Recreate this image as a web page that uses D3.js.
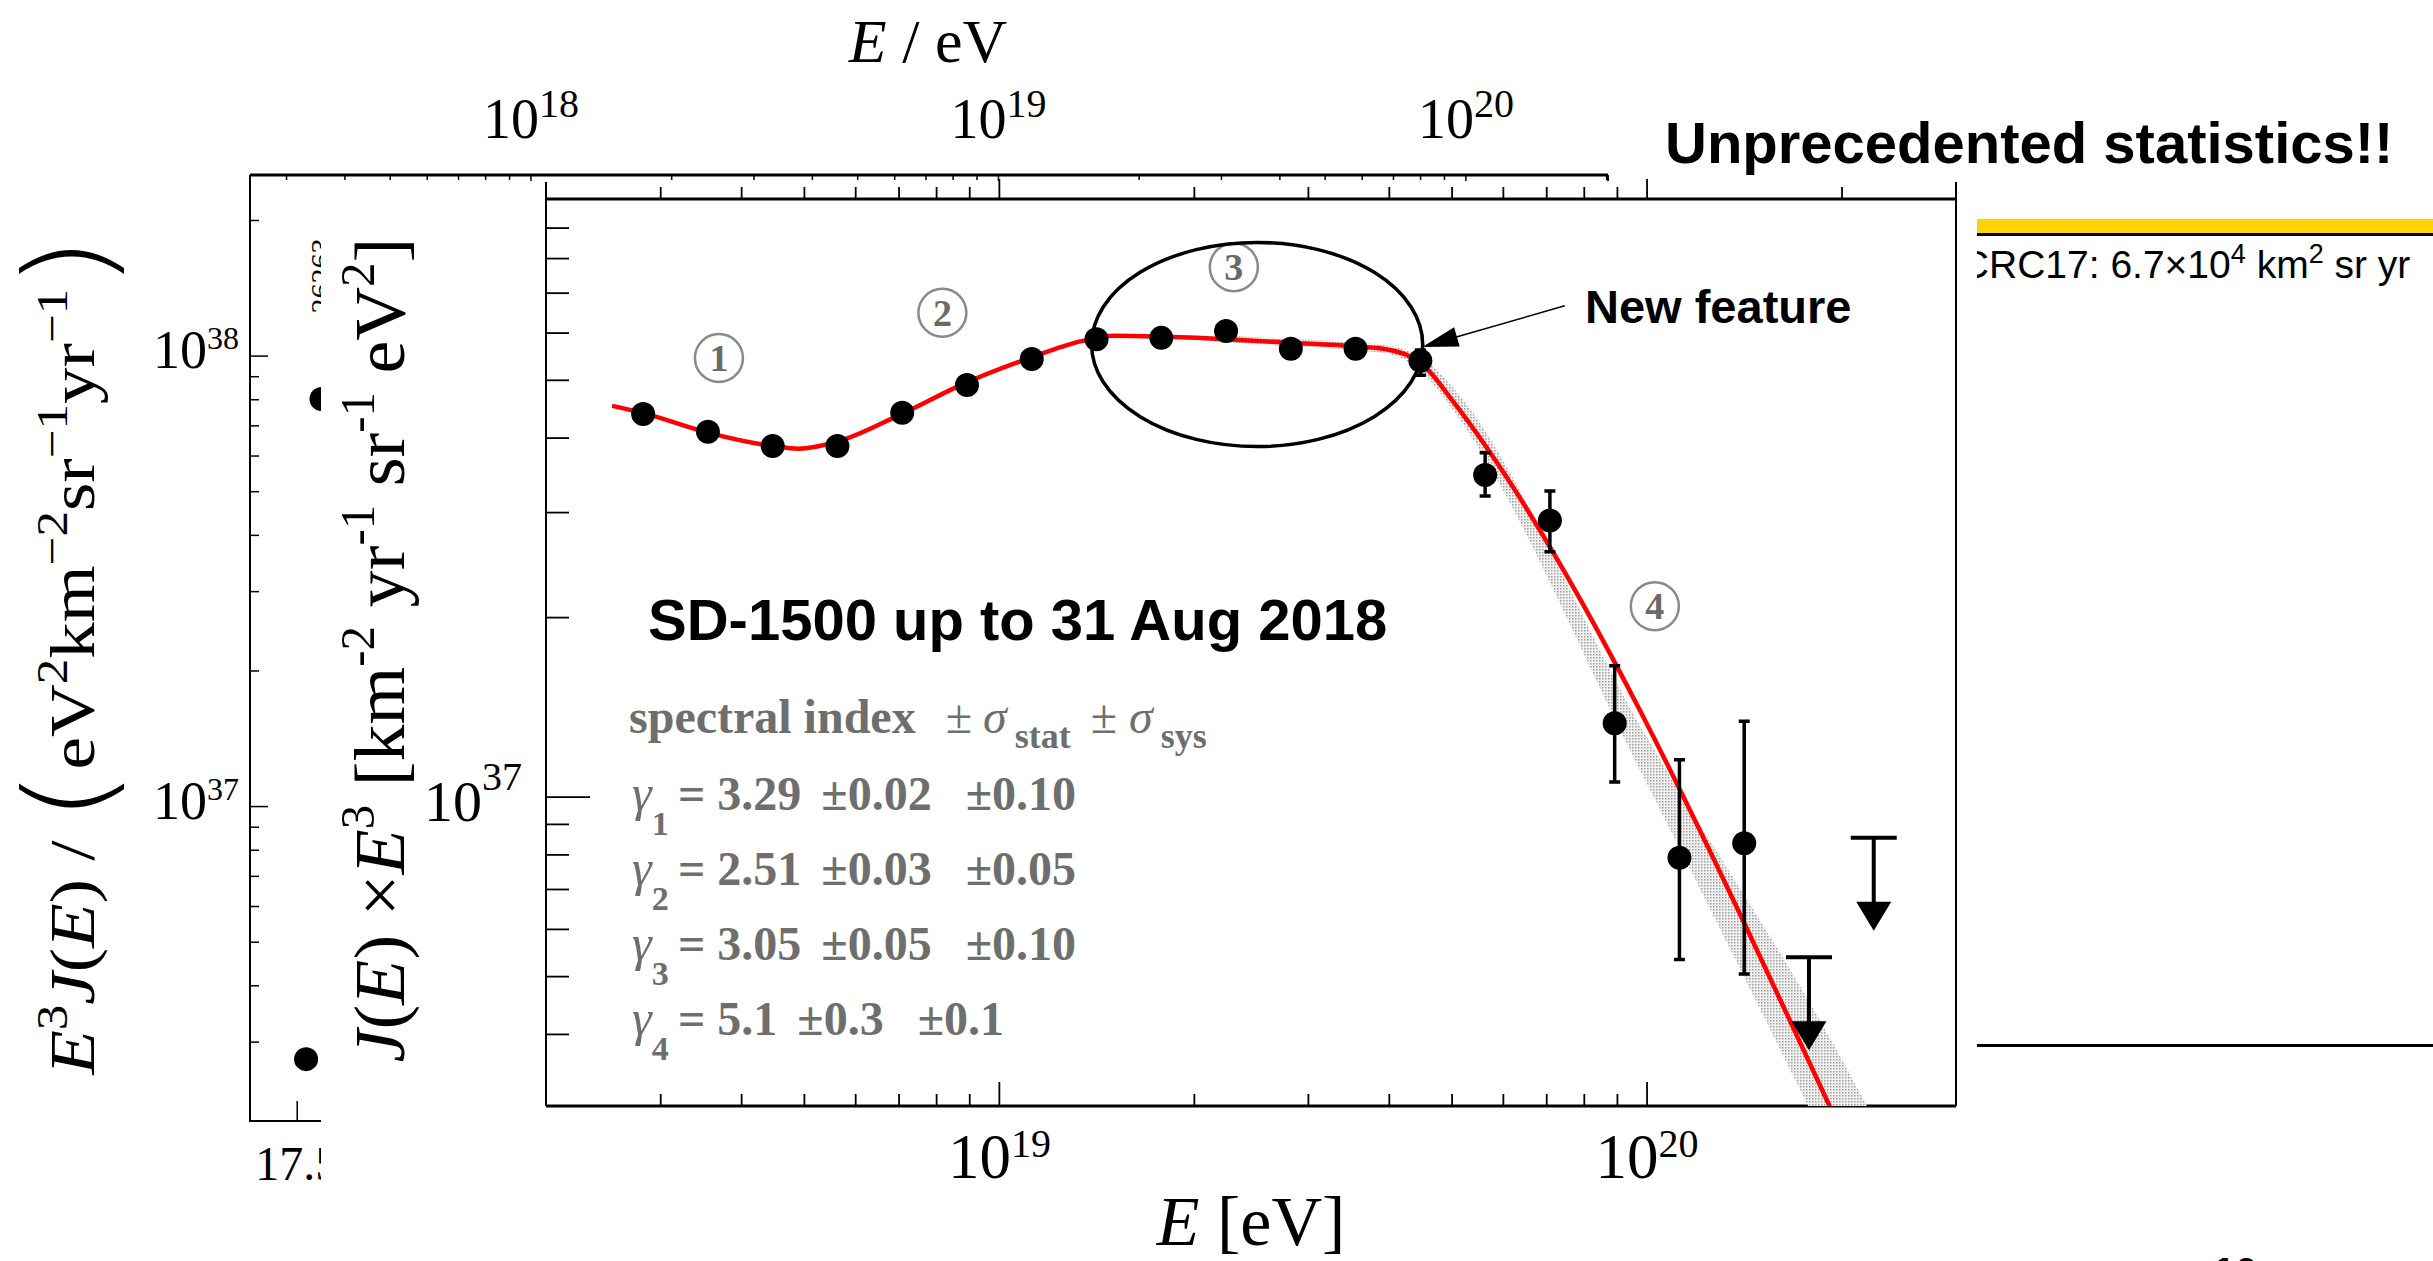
<!doctype html>
<meta charset="utf-8">
<title>SD-1500 spectrum</title>
<style>
    html, body {
        margin: 0;
        background: #fff;
    }

    svg {
        display: block;
    }

    .serif {
        font-family: "Liberation Serif", "Times New Roman", serif;
    }

    .sans {
        font-family: "Liberation Sans", Arial, sans-serif;
    }
</style>
<svg width="2433" height="1261"></svg>
<script src="https://d3js.org/d3.v7.min.js"></script>
<script>
    // SD-1500 points: lg(E/eV) and J x E^3 [km^-2 yr^-1 sr^-1 eV^2]
    var lgE = [18.45, 18.55, 18.65, 18.75, 18.85, 18.95, 19.05, 19.15, 19.25, 19.35, 19.45, 19.55, 19.65, 19.75, 19.85, 19.95, 20.05, 20.15];
    var flux = [4.39e37, 4.10e37, 3.88e37, 3.88e37, 4.41e37, 4.91e37, 5.43e37, 5.86e37, 5.89e37, 6.05e37, 5.65e37, 5.65e37, 5.39e37, 3.47e37, 2.91e37, 1.33e37, 7.91e36, 8.37e36];
    var fluxLow = [4.33e37, 4.04e37, 3.82e37, 3.82e37, 4.34e37, 4.83e37, 5.34e37, 5.76e37, 5.78e37, 5.92e37, 5.50e37, 5.48e37, 5.10e37, 3.20e37, 2.58e37, 1.06e37, 5.34e36, 5.05e36];
    var fluxHigh = [4.45e37, 4.16e37, 3.94e37, 3.94e37, 4.48e37, 4.99e37, 5.52e37, 5.96e37, 6.00e37, 6.18e37, 5.80e37, 5.82e37, 5.62e37, 3.78e37, 3.26e37, 1.66e37, 1.155e37, 1.34e37];

    // upper limits
    var ulLgE = [20.25, 20.35];
    var ulFlux = [5.39e36, 8.55e36];

    // fitted curve
    var fitLgE = [18.402, 18.449, 18.548, 18.650, 18.690, 18.748, 18.847, 18.948, 19.049, 19.125, 19.177, 19.248, 19.349, 19.449, 19.549, 19.603, 19.634, 19.662, 19.699, 20.282];
    var fitFlux = [4.53e37, 4.41e37, 4.09e37, 3.88e37, 3.84e37, 3.94e37, 4.38e37, 4.95e37, 5.46e37, 5.81e37, 5.94e37, 5.92e37, 5.86e37, 5.78e37, 5.70e37, 5.62e37, 5.48e37, 5.20e37, 4.63e37, 3.03e36];

    // systematic band around the fit
    var bandLgE = [19.35, 19.45, 19.603, 19.665, 19.699, 19.994, 20.278, 20.39];
    var bandLow = [5.79e37, 5.70e37, 5.53e37, 4.99e37, 4.48e37, 1.084e37, 2.62e36, 1.49e36];
    var bandHigh = [5.94e37, 5.87e37, 5.71e37, 5.33e37, 4.88e37, 1.29e37, 4.02e36, 2.40e36];

    // region markers
    var regionNames = ['1', '2', '3', '4'];
    var regionLgE = [18.567, 18.912, 19.362, 20.012];
    var regionFlux = [5.45e37, 6.49e37, 7.74e37, 2.09e37];

    // spectral indices
    var gammaIndex = ['1', '2', '3', '4'];
    var gammaValue = ['3.29', '2.51', '3.05', '5.1'];
    var gammaStat = ['±0.02', '±0.03', '±0.05', '±0.3'];
    var gammaSys = ['±0.10', '±0.05', '±0.10', '±0.1'];

    // older plot in the background
    var bgLgE = [17.519, 17.552];
    var bgFlux = [2.75e36, 8.03e37];
    var bgCount = '26263';

    // tick labels
    var bgTopDecades = [18, 19, 20];
    var bgLeftDecades = [37, 38];
    var bgBottomTicks = [17.5];
    var mainXDecades = [19, 20];
    var mainYDecades = [37];

    var svg = d3.select('svg');
    var defs = svg.append('defs');

    var pat = defs.append('pattern')
        .attr('id', 'stip')
        .attr('width', 3)
        .attr('height', 3)
        .attr('patternUnits', 'userSpaceOnUse');
    pat.append('rect').attr('width', 3).attr('height', 3).attr('fill', '#f2f2f2');
    pat.append('rect').attr('width', 1.5).attr('height', 1.5).attr('fill', '#9c9c9c');

    defs.append('clipPath').attr('id', 'plotclip')
        .append('rect').attr('x', 546).attr('y', 199).attr('width', 1410).attr('height', 907);
    defs.append('clipPath').attr('id', 'rightclip')
        .append('rect').attr('x', 1977).attr('y', 0).attr('width', 456).attr('height', 1261);

    function p10(v) {
        return Math.pow(10, v);
    }

    function isDecade(v) {
        var l = Math.log10(v);
        return Math.abs(l - Math.round(l)) < 1e-6;
    }

    // text made of pieces; rise moves a piece up (superscript) or down (subscript)
    function rich(text, parts) {
        var cur = 0;
        parts.forEach(function (p) {
            var rise = p.rise || 0;
            var ts = text.append('tspan').text(p.t).attr('dy', cur - rise);
            cur = rise;
            if (p.x != null) ts.attr('x', p.x);
            if (p.size) ts.attr('font-size', p.size);
            if (p.it) ts.attr('font-style', 'italic');
            if (p.bold) ts.attr('font-weight', 'bold');
            if (p.normal) ts.attr('font-weight', 'normal');
            if (p.family) ts.attr('font-family', p.family);
            if (p.weight) ts.attr('font-weight', p.weight);
            if (p.dx) ts.attr('dx', p.dx);
        });
        return text;
    }

    function powLabel(g, px, py, exp, big, small, rise, anchor) {
        var t = g.append('text')
            .attr('class', 'serif')
            .attr('x', px)
            .attr('y', py)
            .attr('font-size', big)
            .attr('text-anchor', anchor);
        return rich(t, [{ t: '10' }, { t: String(exp), size: small, rise: rise }]);
    }

    // rotated axis title, stretched along its reading direction to the given span
    function rotatedLabel(g, basePos, cy, size, target, parts) {
        var grp = g.append('g');
        var t = grp.append('text').attr('class', 'serif').attr('font-size', size);
        rich(t, parts);
        var bb = t.node().getBBox();
        var k = target / bb.width;
        grp.attr('transform', 'translate(' + basePos + ',' + cy + ') rotate(-90) scale(' + k + ',1) translate(' + (-(bb.x + bb.width / 2)) + ',0)');
    }

    // ---------- background plot ----------
    var bx = d3.scaleLinear().domain([17.399, 20.304]).range([250, 1608]);
    var bxE = d3.scaleLog().domain([p10(17.399), p10(20.304)]).range([250, 1608]);
    var by = d3.scaleLog().domain([p10(36.302), p10(38.402)]).range([1121, 175]);

    var bg = svg.append('g');
    bg.append('line')
        .attr('x1', bx.range()[0]).attr('x2', bx.range()[1])
        .attr('y1', by.range()[1]).attr('y2', by.range()[1])
        .attr('stroke', '#000').attr('stroke-width', 3);
    bg.append('path')
        .attr('d', 'M' + bx.range()[0] + ',' + by.range()[1] + 'V' + by.range()[0] + 'H' + bx.range()[1] + 'V' + by.range()[1])
        .attr('fill', 'none').attr('stroke', '#000').attr('stroke-width', 2);

    bg.selectAll('.btop').data(bxE.ticks()).enter().append('line')
        .attr('x1', function (d) { return bxE(d); })
        .attr('x2', function (d) { return bxE(d); })
        .attr('y1', by.range()[1])
        .attr('y2', function (d) { return by.range()[1] + (isDecade(d) ? 10 : 5); })
        .attr('stroke', '#000').attr('stroke-width', 1.5);

    bg.selectAll('.bleft').data(by.ticks()).enter().append('line')
        .attr('x1', bx.range()[0])
        .attr('x2', function (d) { return bx.range()[0] + (isDecade(d) ? 18 : 9); })
        .attr('y1', function (d) { return by(d); })
        .attr('y2', function (d) { return by(d); })
        .attr('stroke', '#000').attr('stroke-width', 1.5);

    bg.selectAll('.bbot').data(bgBottomTicks).enter().append('line')
        .attr('x1', function (d) { return bx(d); })
        .attr('x2', function (d) { return bx(d); })
        .attr('y1', by.range()[0])
        .attr('y2', by.range()[0] - 20)
        .attr('stroke', '#000').attr('stroke-width', 1.5);

    bgTopDecades.forEach(function (k) {
        powLabel(bg, bxE(p10(k)), 138, k, 56, 40, 21, 'middle');
    });
    bgLeftDecades.forEach(function (k) {
        powLabel(bg, 239, by(p10(k)) + 12, k, 54, 32, 19, 'end');
    });
    bgBottomTicks.forEach(function (v) {
        bg.append('text').attr('class', 'serif')
            .attr('x', bx(v)).attr('y', 1180)
            .attr('font-size', 48).attr('text-anchor', 'middle')
            .text(String(v));
    });

    rich(bg.append('text').attr('class', 'serif')
        .attr('x', 928).attr('y', 62).attr('font-size', 62).attr('text-anchor', 'middle'),
        [{ t: 'E', it: true }, { t: ' / eV' }]);

    bg.selectAll('.bdot').data(bgLgE).enter().append('circle')
        .attr('cx', function (d) { return bx(d); })
        .attr('cy', function (d, i) { return by(bgFlux[i]); })
        .attr('r', 12)
        .attr('fill', '#000');

    bg.append('text').attr('class', 'serif')
        .attr('transform', 'translate(331,276) rotate(-90)')
        .attr('font-size', 30).attr('text-anchor', 'middle')
        .text(bgCount);

    var S1 = 64;
    var sup1 = { size: 0.7 * S1, rise: 0.42 * S1 };
    var paren = { size: 1.85 * S1, rise: -0.24 * S1, family: '"DejaVu Sans", sans-serif', weight: 200 };
    rotatedLabel(bg, 94, 656, S1, 840, [
        { t: 'E', it: true }, Object.assign({ t: '3' }, sup1),
        { t: 'J', it: true }, { t: '(' }, { t: 'E', it: true }, { t: ')' },
        { t: ' / ' },
        Object.assign({ t: '(' }, paren),
        { t: 'eV' }, Object.assign({ t: '2' }, sup1),
        { t: 'km' }, Object.assign({ t: '\u22122' }, sup1),
        { t: 'sr' }, Object.assign({ t: '\u22121' }, sup1),
        { t: 'yr' }, Object.assign({ t: '\u22121' }, sup1),
        Object.assign({ t: ')' }, paren)
    ]);

    // ---------- main plot (pasted on top) ----------
    svg.append('rect')
        .attr('x', 321).attr('y', 181).attr('width', 1641).attr('height', 1080)
        .attr('fill', '#fff');

    var x = d3.scaleLog().domain([p10(18.3), p10(20.477)]).range([546, 1956]);
    var y = d3.scaleLog().domain([p10(36.482), p10(38.003)]).range([1106, 199]);

    function ex(l) {
        return x(p10(l));
    }

    var g = svg.append('g');
    var x0 = x.range()[0], x1 = x.range()[1];
    var yTop = y.range()[1], yBot = y.range()[0];

    // frame
    g.append('line').attr('x1', x0).attr('x2', x0).attr('y1', 182).attr('y2', yBot)
        .attr('stroke', '#000').attr('stroke-width', 2);
    g.append('line').attr('x1', x1).attr('x2', x1).attr('y1', 182).attr('y2', yBot)
        .attr('stroke', '#000').attr('stroke-width', 2);
    g.append('line').attr('x1', x0).attr('x2', x1).attr('y1', yTop).attr('y2', yTop)
        .attr('stroke', '#000').attr('stroke-width', 3);
    g.append('line').attr('x1', x0).attr('x2', x1).attr('y1', yBot).attr('y2', yBot)
        .attr('stroke', '#000').attr('stroke-width', 3);

    var xt = x.ticks().filter(function (d) { return x(d) > x0 + 2; });
    g.selectAll('.xb').data(xt).enter().append('line')
        .attr('x1', function (d) { return x(d); })
        .attr('x2', function (d) { return x(d); })
        .attr('y1', yBot)
        .attr('y2', function (d) { return yBot - (isDecade(d) ? 24 : 12); })
        .attr('stroke', '#000').attr('stroke-width', 1.8);
    g.selectAll('.xt').data(xt).enter().append('line')
        .attr('x1', function (d) { return x(d); })
        .attr('x2', function (d) { return x(d); })
        .attr('y1', yTop)
        .attr('y2', function (d) { return yTop - (isDecade(d) ? 20 : 12); })
        .attr('stroke', '#000').attr('stroke-width', 1.8);
    var yt = y.ticks().filter(function (d) { return y(d) > yTop + 5; });
    g.selectAll('.yl').data(yt).enter().append('line')
        .attr('x1', x0)
        .attr('x2', function (d) { return x0 + (isDecade(d) ? 44 : 23); })
        .attr('y1', function (d) { return y(d); })
        .attr('y2', function (d) { return y(d); })
        .attr('stroke', '#000').attr('stroke-width', 1.8);

    mainXDecades.forEach(function (k) {
        powLabel(g, x(p10(k)), 1178, k, 63, 40, 21, 'middle');
    });
    mainYDecades.forEach(function (k) {
        powLabel(g, 522, y(p10(k)) + 24, k, 58, 40, 31, 'end');
    });

    rich(g.append('text').attr('class', 'serif')
        .attr('x', 1251).attr('y', 1245).attr('font-size', 70).attr('text-anchor', 'middle'),
        [{ t: 'E', it: true }, { t: ' [eV]' }]);

    var S2 = 72;
    var sup2 = { size: 0.66 * S2, rise: 0.42 * S2 };
    rotatedLabel(g, 404, 650, S2, 825, [
        { t: 'J', it: true }, { t: '(' }, { t: 'E', it: true }, { t: ')' },
        { t: ' \u00d7' }, { t: 'E', it: true }, Object.assign({ t: '3' }, sup2),
        { t: ' [km' }, Object.assign({ t: '-2' }, sup2),
        { t: ' yr' }, Object.assign({ t: '-1' }, sup2),
        { t: ' sr' }, Object.assign({ t: '-1' }, sup2),
        { t: ' eV' }, Object.assign({ t: '2' }, sup2),
        { t: ']' }
    ]);

    // plot content
    var inner = g.append('g').attr('clip-path', 'url(#plotclip)');

    var bandRows = bandLgE.map(function (e, i) {
        return { e: e, lo: bandLow[i], hi: bandHigh[i] };
    });
    var area = d3.area()
        .curve(d3.curveMonotoneX)
        .x(function (d) { return ex(d.e); })
        .y0(function (d) { return y(d.lo); })
        .y1(function (d) { return y(d.hi); });
    inner.append('path').attr('d', area(bandRows)).attr('fill', 'url(#stip)');

    var fitRows = fitLgE.map(function (e, i) {
        return { e: e, f: fitFlux[i] };
    });
    var line = d3.line()
        .curve(d3.curveMonotoneX)
        .x(function (d) { return ex(d.e); })
        .y(function (d) { return y(d.f); });
    inner.append('path').attr('d', line(fitRows))
        .attr('fill', 'none').attr('stroke', '#ff0000').attr('stroke-width', 4.5);

    var pts = lgE.map(function (e, i) {
        return { e: e, f: flux[i], lo: fluxLow[i], hi: fluxHigh[i] };
    });
    var pg = inner.selectAll('.pt').data(pts).enter().append('g');
    pg.append('line')
        .attr('x1', function (d) { return ex(d.e); })
        .attr('x2', function (d) { return ex(d.e); })
        .attr('y1', function (d) { return y(d.lo); })
        .attr('y2', function (d) { return y(d.hi); })
        .attr('stroke', '#000').attr('stroke-width', 3.5);
    pg.append('path')
        .attr('d', function (d) {
            var cx = ex(d.e);
            return 'M' + (cx - 5.5) + ',' + y(d.lo) + 'H' + (cx + 5.5) +
                'M' + (cx - 5.5) + ',' + y(d.hi) + 'H' + (cx + 5.5);
        })
        .attr('stroke', '#000').attr('stroke-width', 3.5);
    pg.append('circle')
        .attr('cx', function (d) { return ex(d.e); })
        .attr('cy', function (d) { return y(d.f); })
        .attr('r', 12)
        .attr('fill', '#000');

    var ul = inner.selectAll('.ul').data(ulLgE).enter().append('g');
    ul.append('path')
        .attr('d', function (d, i) {
            var cx = ex(d), cy = y(ulFlux[i]);
            return 'M' + (cx - 23) + ',' + cy + 'H' + (cx + 23) + 'M' + cx + ',' + cy + 'V' + (cy + 66);
        })
        .attr('stroke', '#000').attr('stroke-width', 4).attr('fill', 'none');
    ul.append('path')
        .attr('d', function (d, i) {
            var cx = ex(d), cy = y(ulFlux[i]);
            return 'M' + (cx - 17.5) + ',' + (cy + 64) + 'L' + (cx + 17.5) + ',' + (cy + 64) + 'L' + cx + ',' + (cy + 93) + 'Z';
        })
        .attr('fill', '#000');

    // region markers
    regionNames.forEach(function (n, i) {
        var cx = ex(regionLgE[i]), cy = y(regionFlux[i]);
        g.append('circle').attr('cx', cx).attr('cy', cy).attr('r', 24)
            .attr('fill', 'none').attr('stroke', '#8a8a8a').attr('stroke-width', 2.5);
        g.append('text').attr('class', 'serif')
            .attr('x', cx).attr('y', cy).attr('dy', '0.34em')
            .attr('font-size', 38).attr('font-weight', 'bold').attr('text-anchor', 'middle')
            .attr('fill', '#6a6a6a')
            .text(n);
    });

    // ellipse around the plateau
    var ecx = ex(19.398), ecy = y(p10(37.759));
    g.append('ellipse')
        .attr('cx', ecx).attr('cy', ecy)
        .attr('rx', ex(19.398 + 0.2556) - ecx)
        .attr('ry', ecy - y(p10(37.759 + 0.1711)))
        .attr('fill', 'none').attr('stroke', '#000').attr('stroke-width', 3.5);

    // "New feature" arrow
    var tipX = ex(19.653), tipY = y(p10(37.755));
    var tailX = ex(19.873), tailY = y(p10(37.824));
    var dx = tailX - tipX, dy = tailY - tipY, dl = Math.sqrt(dx * dx + dy * dy);
    var ux = dx / dl, uy = dy / dl;
    g.append('line')
        .attr('x1', tailX).attr('y1', tailY)
        .attr('x2', tipX + ux * 30).attr('y2', tipY + uy * 30)
        .attr('stroke', '#000').attr('stroke-width', 1.5);
    g.append('path')
        .attr('d', 'M' + tipX + ',' + tipY +
            'L' + (tipX + ux * 36 - uy * 10) + ',' + (tipY + uy * 36 + ux * 10) +
            'L' + (tipX + ux * 36 + uy * 10) + ',' + (tipY + uy * 36 - ux * 10) + 'Z')
        .attr('fill', '#000');
    g.append('text').attr('class', 'sans')
        .attr('x', 1585).attr('y', 323)
        .attr('font-size', 47).attr('font-weight', 'bold')
        .text('New feature');

    g.append('text').attr('class', 'sans')
        .attr('x', 648).attr('y', 640)
        .attr('font-size', 58).attr('font-weight', 'bold')
        .text('SD-1500 up to 31 Aug 2018');

    // spectral index block
    var grey = '#6e6e6e';
    rich(g.append('text').attr('class', 'serif')
        .attr('x', 629).attr('y', 733).attr('font-size', 48).attr('font-weight', 'bold').attr('fill', grey),
        [{ t: 'spectral index' },
            { t: '\u00b1', dx: 30, normal: true },
            { t: '\u03c3', dx: 11, it: true, normal: true },
            { t: 'stat', size: 36, rise: -15, dx: 8 },
            { t: '\u00b1', dx: 20, normal: true },
            { t: '\u03c3', dx: 12, it: true, normal: true },
            { t: 'sys', size: 36, rise: -15, dx: 8 }]);

    var rowY = [810, 885, 960, 1035];
    gammaIndex.forEach(function (n, i) {
        var row = g.append('g');
        rich(row.append('text').attr('class', 'serif')
            .attr('x', 632).attr('y', rowY[i]).attr('font-size', 50).attr('fill', grey),
            [{ t: '\u03b3', it: true }, { t: n, size: 34, rise: -25, bold: true }]);
        rich(row.append('text').attr('class', 'serif')
            .attr('x', 678).attr('y', rowY[i]).attr('font-size', 48).attr('font-weight', 'bold').attr('fill', grey),
            [{ t: '=' },
                { t: gammaValue[i], dx: 12 },
                { t: gammaStat[i], dx: 20 },
                { t: gammaSys[i], dx: 34 }]);
    });

    // ---------- slide elements ----------
    svg.append('text').attr('class', 'sans')
        .attr('x', 1665).attr('y', 163)
        .attr('font-size', 58).attr('font-weight', 'bold')
        .text('Unprecedented statistics!!');

    var right = svg.append('g').attr('clip-path', 'url(#rightclip)');
    right.append('rect').attr('x', 1977).attr('y', 219).attr('width', 456).attr('height', 14).attr('fill', '#fed400');
    right.append('rect').attr('x', 1977).attr('y', 233).attr('width', 456).attr('height', 3).attr('fill', '#000');
    right.append('rect').attr('x', 1977).attr('y', 1044).attr('width', 456).attr('height', 3).attr('fill', '#000');
    rich(right.append('text').attr('class', 'sans')
        .attr('x', 1950).attr('y', 278).attr('font-size', 39),
        [{ t: 'ICRC17: 6.7\u00d710' }, { t: '4', size: 27, rise: 15 },
            { t: ' km' }, { t: '2', size: 27, rise: 15 }, { t: ' sr yr' }]);

    svg.append('text').attr('class', 'sans')
        .attr('x', 2213).attr('y', 1286)
        .attr('font-size', 40).attr('font-weight', 'bold')
        .text('10');
</script>
